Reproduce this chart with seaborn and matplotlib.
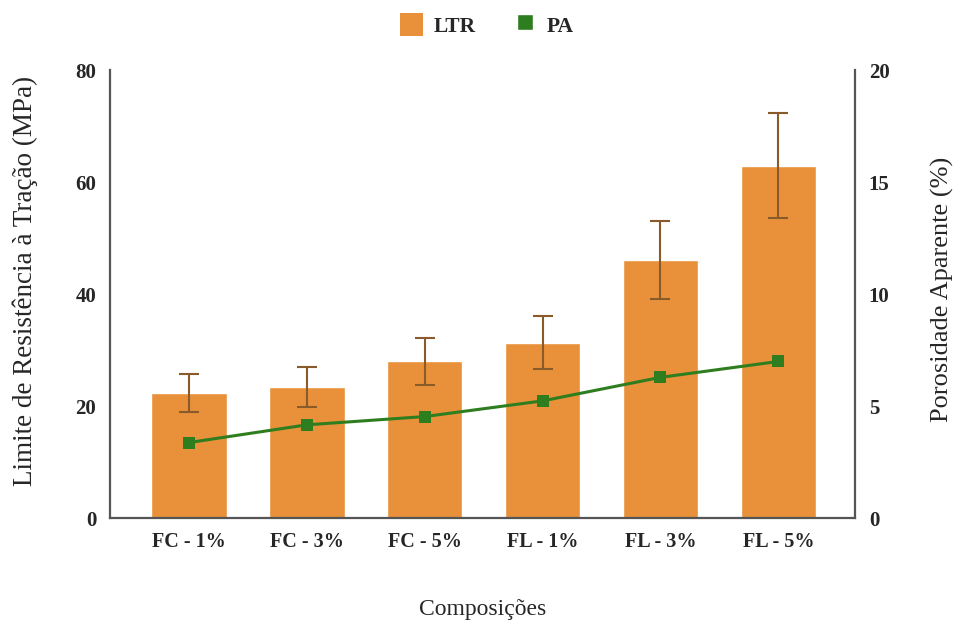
"""Bar chart of LTR with error bars and PA line on a secondary axis."""

import matplotlib.pyplot as plt
import numpy as np
import pandas as pd
import seaborn as sns
from matplotlib.patches import Patch
from matplotlib.lines import Line2D

categories = ["FC - 1%", "FC - 3%", "FC - 5%", "FL - 1%", "FL - 3%", "FL - 5%"]
ltr = [22.3, 23.4, 28.0, 31.3, 46.1, 62.9]
ltr_err = [3.4, 3.5, 4.2, 4.7, 6.9, 9.4]
pa = [3.37, 4.16, 4.53, 5.23, 6.28, 6.99]

BAR_COLOR = "#E8913A"
ERR_COLOR = "#8B5A2B"
LINE_COLOR = "#2E7D1F"
SPINE_COLOR = "#555555"

sns.set_theme(style="white")
plt.rcParams["font.family"] = ["Liberation Serif", "DejaVu Serif"]

df = pd.DataFrame({"comp": categories, "ltr": ltr, "err": ltr_err, "pa": pa})

fig = plt.figure(figsize=(9.6, 6.23), dpi=100)
ax = fig.add_axes([0.1146, 0.1685, 0.776, 0.7191])

sns.barplot(data=df, x="comp", y="ltr", color=BAR_COLOR, width=0.64,
            saturation=1, errorbar=None, ax=ax)
xpos = np.arange(len(categories))
ax.errorbar(xpos, df["ltr"], yerr=df["err"], fmt="none", ecolor=ERR_COLOR,
            elinewidth=1.5, capsize=7.5, capthick=1.5, zorder=3)

ax.set_xlim(-0.67, 5.65)
ax.set_ylim(0, 80)
ax.set_yticks([0, 20, 40, 60, 80])
ax.set_xlabel("Composições", fontsize=17, labelpad=34)
ax.set_ylabel("Limite de Resistência à Tração (MPa)", fontsize=19.5, labelpad=27)
ax.yaxis.label.set_y(0.53)

ax2 = ax.twinx()
sns.lineplot(x=xpos, y=df["pa"], color=LINE_COLOR, linewidth=2.2,
             marker="s", markersize=8, markeredgewidth=0, ax=ax2)
ax2.set_ylim(0, 20)
ax2.set_yticks([0, 5, 10, 15, 20])
ax2.set_ylabel("Porosidade Aparente (%)", fontsize=19, labelpad=30)
ax2.yaxis.label.set_y(0.51)

for a in (ax, ax2):
    a.spines["top"].set_visible(False)
    for side in ("left", "right", "bottom"):
        a.spines[side].set_color(SPINE_COLOR)
        a.spines[side].set_linewidth(1.6)
    a.tick_params(length=0, labelsize=15, pad=10)
    for lbl in a.get_xticklabels() + a.get_yticklabels():
        lbl.set_fontweight("bold")
ax.tick_params(axis="x", labelsize=14.5)
ax2.spines["left"].set_visible(False)
ax2.spines["bottom"].set_visible(False)
ax.spines["right"].set_visible(False)

handles = [
    Patch(facecolor=BAR_COLOR, edgecolor="none", label="LTR"),
    Line2D([0], [0], marker="s", color="w", markerfacecolor=LINE_COLOR,
           markersize=11, label="PA"),
]
fig.legend(handles=handles, loc="upper center", bbox_to_anchor=(0.5075, 1.01),
           ncol=2, frameon=False, prop={"weight": "bold", "size": 15.5},
           handlelength=1.05, handleheight=1.25, handletextpad=0.5,
           columnspacing=1.75)

fig.savefig("out.png", dpi=100)
plt.close(fig)
